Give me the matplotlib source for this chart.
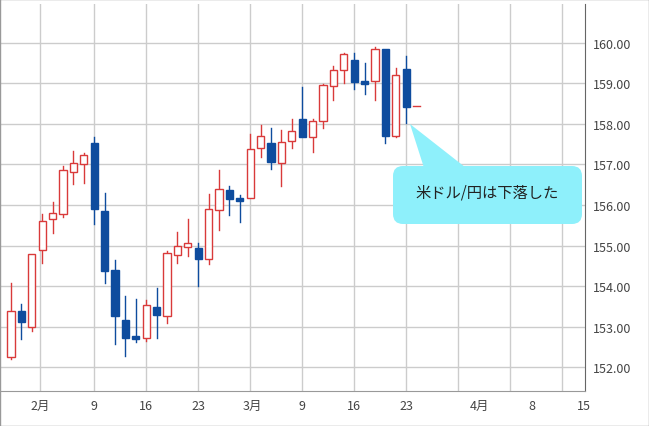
import matplotlib
matplotlib.use("Agg")
import matplotlib.pyplot as plt
from matplotlib.patches import FancyBboxPatch, Polygon, Rectangle
from matplotlib.transforms import IdentityTransform

plt.rcParams['font.family'] = ['Noto Sans CJK JP', 'DejaVu Sans']

# OHLC per trading day
opens = [152.24, 153.39, 152.98, 154.89, 155.66, 155.78, 156.81, 157.01, 157.52, 155.85,
         154.40, 153.17, 152.76, 152.72, 153.48, 153.25, 154.77, 154.97, 154.93, 154.67,
         155.88, 156.37, 156.17, 156.17, 157.41, 157.54, 157.04, 157.59, 158.11, 157.68,
         158.07, 158.93, 159.34, 159.57, 159.06, 159.05, 159.86, 157.70, 159.35, 158.44]
closes = [153.39, 153.11, 154.78, 155.61, 155.80, 156.87, 157.03, 157.24, 155.89, 154.37,
          153.26, 152.72, 152.70, 153.52, 153.29, 154.82, 154.99, 155.07, 154.66, 155.90,
          156.40, 156.14, 156.09, 157.37, 157.71, 157.07, 157.56, 157.83, 157.67, 158.07,
          158.95, 159.33, 159.73, 159.04, 158.99, 159.85, 157.70, 159.22, 158.43, 158.44]
highs = [154.07, 153.55, 154.80, 155.79, 156.07, 156.95, 157.34, 157.29, 157.69, 156.30,
         154.65, 153.76, 153.67, 153.65, 153.94, 154.86, 155.34, 155.65, 155.05, 156.27,
         156.86, 156.48, 156.25, 157.76, 157.98, 157.89, 157.86, 158.11, 158.90, 158.13,
         158.98, 159.44, 159.76, 159.74, 159.50, 159.91, 159.86, 159.39, 159.67, 158.44]
lows = [152.20, 152.70, 152.88, 154.56, 155.30, 155.70, 156.52, 156.54, 155.54, 154.07,
        152.57, 152.28, 152.63, 152.65, 152.71, 153.08, 154.56, 154.74, 154.00, 154.54,
        155.38, 155.75, 155.58, 156.17, 157.18, 156.89, 156.48, 157.40, 157.67, 157.31,
        157.89, 158.58, 159.02, 158.86, 158.74, 158.58, 157.52, 157.67, 158.03, 158.44]

tick_pos = [2.8, 8.0, 13.0, 18.0, 23.2, 28.0, 33.0, 38.0, 45.1, 50.1, 55.1]
tick_labels = ['2月', '9', '16', '23', '3月', '9', '16', '23', '4月', '8', '15']
grid_x = [2.8, 8.0, 13.0, 18.0, 23.0, 28.0, 33.0, 38.0, 43.0, 48.0, 53.0]
y_ticks = [152, 153, 154, 155, 156, 157, 158, 159, 160]

red = '#d93a3a'
blue = '#0e4c9e'

fig = plt.figure(figsize=(6.49, 4.27), dpi=100)
ax = fig.add_axes([0.0, 35 / 427, 585 / 649, 387 / 427])

for i in range(len(opens)):
    o, c, h, l = opens[i], closes[i], highs[i], lows[i]
    up = c >= o
    col = red if up else blue
    lo, hi = min(o, c), max(o, c)
    ax.plot([i, i], [l, lo], color=col, lw=1, zorder=2)
    ax.plot([i, i], [hi, h], color=col, lw=1, zorder=2)
    if hi - lo < 0.02:
        ax.plot([i - 0.35, i + 0.35], [o, o], color=col, lw=1, zorder=3)
    else:
        ax.add_patch(Rectangle((i - 0.35, lo), 0.7, hi - lo, facecolor='white' if up else blue,
                               edgecolor=col, lw=1, zorder=3))

ax.set_xlim(-1.06, 55.2)
ax.set_ylim(151.41, 160.96)
ax.set_xticks(tick_pos)
ax.set_xticklabels(tick_labels, fontsize=9, color='#444444')
ax.set_yticks(y_ticks)
ax.set_yticklabels(['%.2f' % v for v in y_ticks], fontsize=9, color='#444444')
ax.yaxis.tick_right()
ax.tick_params(length=0, pad=6)
for gx in grid_x:
    ax.axvline(gx, color='#cccccc', lw=1, zorder=0)
for gy in y_ticks:
    ax.axhline(gy, color='#cccccc', lw=1, zorder=0)
for s in ['top', 'left']:
    ax.spines[s].set_visible(False)
ax.spines['right'].set_color('#666666')
ax.spines['bottom'].set_color('#999999')

# callout (display pixels, origin bottom-left)
H = 427
fc = '#8ef0fb'
fig.add_artist(Polygon([(410, H - 125), (425, H - 172), (470, H - 172)], closed=True,
                       facecolor=fc, edgecolor='none', transform=IdentityTransform()))
fig.add_artist(FancyBboxPatch((401, H - 217), 173, 42, boxstyle='round,pad=8,rounding_size=10',
                              facecolor=fc, edgecolor='none', transform=IdentityTransform()))
fig.text(487 / 649, 1 - 193 / 427, '米ドル/円は下落した', fontsize=11, ha='center', va='center',
         color='#222222')

fig.add_artist(Rectangle((0, 0), 1, 1, transform=fig.transFigure, fill=False,
                         edgecolor='#999999', lw=1))
fig.savefig('out.png', dpi=100)
